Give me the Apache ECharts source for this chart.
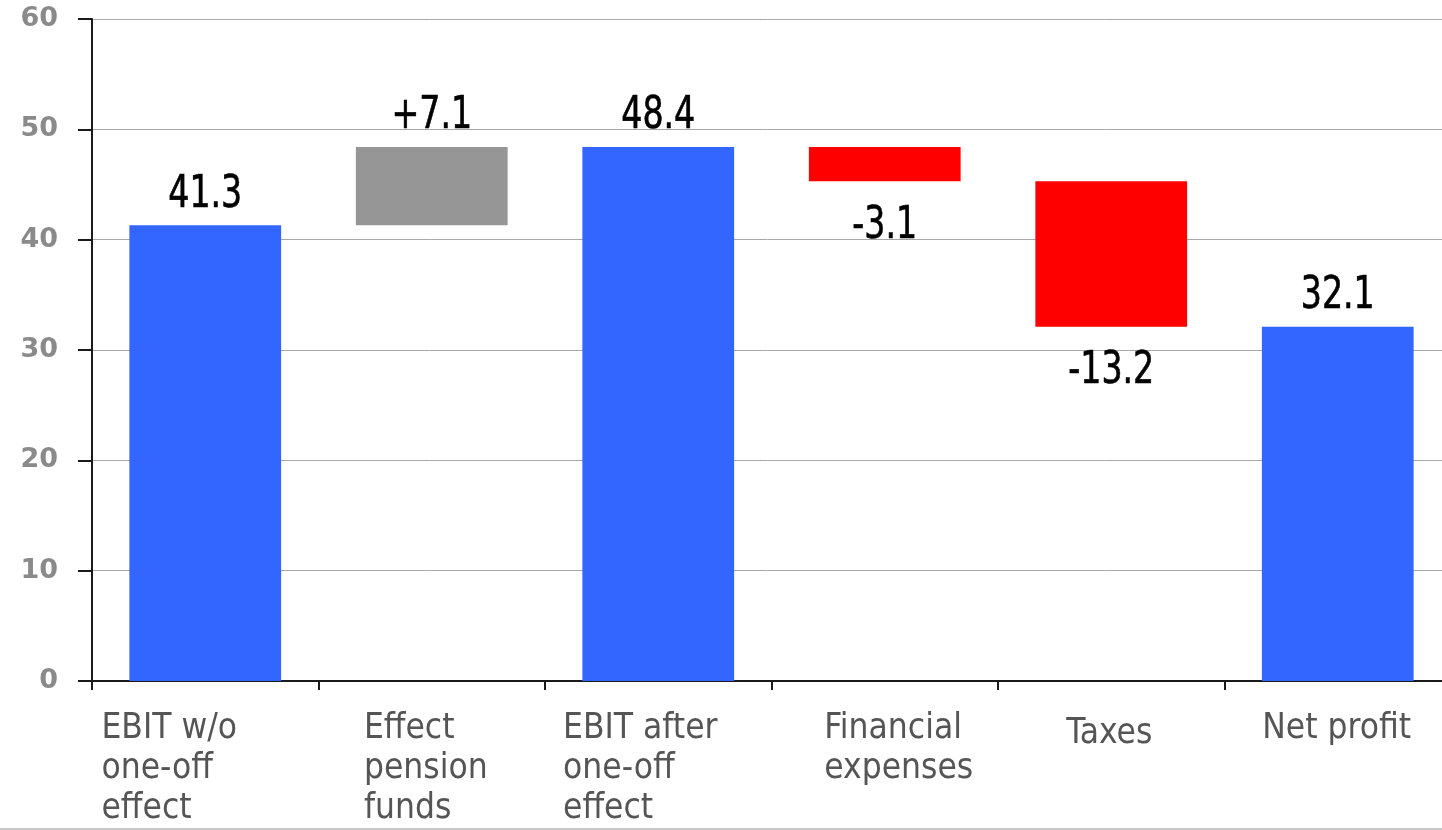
<!DOCTYPE html>
<html>
<head>
<meta charset="utf-8">
<title>EBIT to net profit bridge</title>
<script src="https://cdn.jsdelivr.net/npm/echarts@6/dist/echarts.min.js"></script>
<style>
  html, body { margin: 0; padding: 0; background: #ffffff; }
  #chart { width: 1442px; height: 828px; border-bottom: 2px solid #c8c8c8; }
</style>
</head>
<body>
<div id="chart"></div>
<script>
// Bridge steps from EBIT to net profit
const categories = [
  'EBIT w/o\none-off\neffect',
  'Effect\npension\nfunds',
  'EBIT after\none-off\neffect',
  'Financial\nexpenses',
  'Taxes',
  'Net profit'
];
const stepValues = [41.3, 7.1, 48.4, -3.1, -13.2, 32.1];
const isTotal = [true, false, true, false, false, true];
const yTicks = { min: 0, max: 60, interval: 10 };

// Split the steps into an invisible base plus visible total / increase / decrease segments,
// and remember where each value label hangs (top of rises and totals, bottom of falls)
const baseData = [], totalData = [], upData = [], downData = [], labelData = [];
let running = 0;
stepValues.forEach((v, i) => {
  const txt = (isTotal[i] ? '' : (v >= 0 ? '+' : '-')) + Math.abs(v).toFixed(1);
  if (isTotal[i]) {
    running = v;
    baseData.push('-'); totalData.push(v); upData.push('-'); downData.push('-');
    labelData.push([i, v, -1, txt]);
  } else if (v >= 0) {
    baseData.push(running); upData.push(v); totalData.push('-'); downData.push('-');
    running += v;
    labelData.push([i, running, -1, txt]);
  } else {
    running += v;
    baseData.push(running); downData.push(-v); totalData.push('-'); upData.push('-');
    labelData.push([i, running, 1, txt]);
  }
});

const textFont = '"Liberation Sans Narrow", "DejaVu Sans Condensed", sans-serif';

// small per-category nudges of the wrapped axis captions (padding around each caption box)
const captionPadding = [
  [0, 72, 0, 0],
  [0, 12, 0, 0],
  [0, 36, 0, 0],
  [0, 0, 0, 28],
  [5, 4, 0, 0],
  [0, 2, 0, 0]
];

const chart = echarts.init(document.getElementById('chart'), null, { renderer: 'canvas' });
chart.setOption({
  animation: false,
  backgroundColor: '#ffffff',
  grid: { left: 92, top: 19, bottom: 147, width: 1359, containLabel: false, outerBoundsMode: 'none' },
  xAxis: {
    type: 'category',
    data: categories.map((c, i) => ({ value: c, textStyle: { padding: captionPadding[i] } })),
    axisLine: { lineStyle: { color: '#1a1a1a', width: 2 } },
    axisTick: { show: true, length: 9, lineStyle: { color: '#1a1a1a', width: 2 } },
    axisLabel: {
      interval: 0,
      margin: 28,
      formatter: s => s.split('\n').map(l => '{t|' + l + '}').join('\n'),
      rich: {
        t: {
          align: 'left',
          fontFamily: textFont,
          fontSize: 35,
          lineHeight: 40,
          color: '#555555'
        }
      }
    }
  },
  yAxis: {
    type: 'value',
    min: yTicks.min,
    max: yTicks.max,
    interval: yTicks.interval,
    axisLine: { show: true, lineStyle: { color: '#1a1a1a', width: 2 } },
    axisTick: { show: true, length: 14, lineStyle: { color: '#1a1a1a', width: 2 } },
    axisLabel: {
      margin: 34,
      fontFamily: '"DejaVu Sans", sans-serif',
      fontWeight: 'bold',
      fontSize: 27,
      color: '#8a8a8a'
    },
    splitLine: { lineStyle: { color: '#a8a8a8', width: 1 } }
  },
  series: [
    {
      name: 'base', type: 'bar', stack: 'bridge', barWidth: '67%',
      itemStyle: { color: 'transparent' },
      emphasis: { disabled: true },
      data: baseData
    },
    {
      name: 'total', type: 'bar', stack: 'bridge',
      itemStyle: { color: '#3366ff' },
      data: totalData
    },
    {
      name: 'increase', type: 'bar', stack: 'bridge',
      itemStyle: { color: '#969696' },
      data: upData
    },
    {
      name: 'decrease', type: 'bar', stack: 'bridge',
      itemStyle: { color: '#ff0000' },
      data: downData
    },
    {
      // value labels, set in a narrowed face above rises/totals and below falls
      name: 'labels', type: 'custom', silent: true, z: 5,
      encode: { x: 0, y: 1 },
      renderItem: (params, api) => {
        const dir = api.value(2);
        const p = api.coord([api.value(0), api.value(1)]);
        return {
          type: 'text',
          x: p[0],
          y: p[1] + (dir < 0 ? -8 : 23),
          scaleX: 0.84,
          style: {
            text: labelData[params.dataIndex][3],
            fontFamily: textFont,
            fontSize: 44,
            fill: '#000000',
            stroke: '#000000',
            lineWidth: 0.6,
            align: 'center',
            verticalAlign: dir < 0 ? 'bottom' : 'top'
          }
        };
      },
      data: labelData
    }
  ]
});
</script>
</body>
</html>
